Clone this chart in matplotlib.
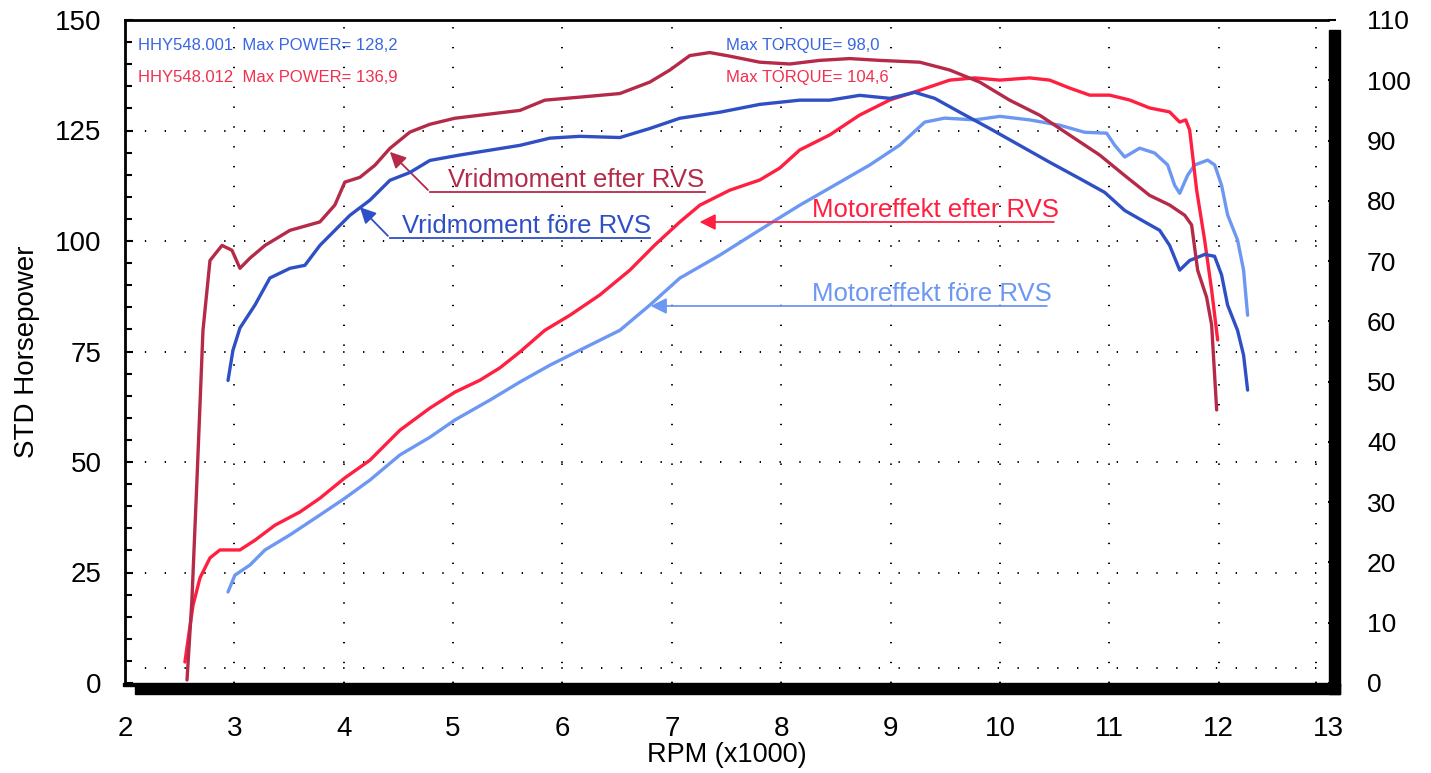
import matplotlib.pyplot as plt
import matplotlib.patches as mpatches
import numpy as np

plt.rcParams['font.family'] = ['Liberation Sans', 'DejaVu Sans']

# --- data ---
rpm_tq_after = [2.567, 2.612, 2.658, 2.713, 2.777, 2.887, 2.978, 3.051, 3.143, 3.280, 3.508, 3.782,
                3.919, 4.010, 4.148, 4.285, 4.422, 4.605, 4.788, 5.016, 5.336, 5.611, 5.839, 6.159,
                6.525, 6.799, 6.982, 7.165, 7.347, 7.530, 7.804, 8.079, 8.353, 8.627, 8.901, 9.267,
                9.541, 9.815, 10.089, 10.364, 10.638, 10.912, 11.141, 11.369, 11.552, 11.690, 11.753,
                11.808, 11.890, 11.936, 11.982]
tq_after = [0.5, 13.8, 33.7, 58.5, 70.1, 72.6, 71.8, 68.8, 70.5, 72.6, 75.1, 76.5,
            79.3, 83.1, 83.9, 85.9, 88.7, 91.4, 92.7, 93.7, 94.4, 95.0, 96.7, 97.2,
            97.8, 99.7, 101.7, 104.1, 104.6, 104.0, 103.0, 102.7, 103.3, 103.6, 103.3, 103.0,
            101.7, 99.7, 96.7, 94.2, 90.9, 87.6, 84.2, 80.9, 79.3, 77.6, 76.0,
            68.5, 64.0, 59.4, 45.3]

rpm_tq_before = [2.942, 2.987, 3.051, 3.188, 3.325, 3.508, 3.645, 3.782, 3.919, 4.057, 4.239, 4.422,
                 4.605, 4.788, 5.062, 5.336, 5.611, 5.885, 6.159, 6.525, 6.799, 7.073, 7.439, 7.804,
                 8.170, 8.444, 8.718, 8.993, 9.221, 9.404, 9.633, 9.907, 10.181, 10.455, 10.729,
                 10.958, 11.141, 11.324, 11.461, 11.552, 11.644, 11.735, 11.872, 11.963, 12.027,
                 12.082, 12.173, 12.228, 12.265]
tq_before = [50.2, 55.2, 58.9, 62.7, 67.2, 68.8, 69.3, 72.6, 75.1, 77.6, 80.1, 83.4,
             84.7, 86.7, 87.6, 88.4, 89.2, 90.4, 90.7, 90.5, 92.0, 93.7, 94.7, 96.0,
             96.7, 96.7, 97.5, 97.0, 98.0, 97.0, 94.7, 92.0, 89.2, 86.4, 83.7,
             81.4, 78.4, 76.5, 75.1, 72.6, 68.5, 70.1, 71.1, 70.8, 67.7,
             62.7, 58.5, 54.4, 48.6]

rpm_hp_after = [2.548, 2.576, 2.622, 2.686, 2.777, 2.868, 3.051, 3.188, 3.371, 3.600, 3.782, 4.010,
                4.239, 4.514, 4.788, 5.016, 5.245, 5.428, 5.611, 5.839, 6.068, 6.342, 6.616, 6.845,
                7.073, 7.256, 7.530, 7.804, 7.987, 8.170, 8.444, 8.718, 8.993, 9.267, 9.541, 9.770,
                10.0, 10.272, 10.455, 10.638, 10.821, 11.003, 11.186, 11.369, 11.552, 11.644, 11.699,
                11.735, 11.799, 11.872, 11.936, 11.991]
hp_after = [4.75, 9.7, 17.6, 23.8, 28.3, 30.1, 30.1, 32.3, 35.7, 38.7, 41.8, 46.4,
            50.4, 57.2, 62.2, 65.8, 68.5, 71.3, 74.9, 79.8, 83.2, 87.8, 93.4, 99.1,
            104.3, 108.1, 111.5, 113.8, 116.5, 120.6, 124.0, 128.5, 131.9, 134.1, 136.4, 136.9,
            136.4, 136.9, 136.4, 134.6, 133.0, 133.0, 131.9, 130.1, 129.2, 126.9, 127.4,
            125.1, 111.5, 100.2, 88.9, 77.6]

rpm_hp_before = [2.942, 3.005, 3.143, 3.280, 3.508, 3.782, 4.010, 4.239, 4.514, 4.788, 5.016, 5.336,
                 5.611, 5.885, 6.159, 6.525, 6.799, 7.073, 7.439, 7.804, 8.170, 8.536, 8.810, 9.084,
                 9.313, 9.495, 9.770, 10.0, 10.272, 10.547, 10.775, 10.976, 11.049, 11.141, 11.278,
                 11.415, 11.534, 11.598, 11.644, 11.717, 11.781, 11.900, 11.964, 12.027, 12.082,
                 12.173, 12.228, 12.265]
hp_before = [20.6, 24.4, 26.7, 30.1, 33.5, 38.0, 41.8, 45.9, 51.6, 55.6, 59.5, 64.0,
             68.1, 71.9, 75.3, 79.8, 85.5, 91.6, 96.8, 102.5, 108.1, 113.3, 117.2, 121.7,
             126.9, 127.8, 127.4, 128.2, 127.4, 126.2, 124.6, 124.4, 121.7, 119.0, 121.0,
             119.9, 117.2, 112.6, 110.8, 114.9, 117.2, 118.3, 117.2, 112.6, 105.9,
             100.2, 93.4, 83.2]

x_ticks = list(range(2, 14))
hp_ticks = [0, 25, 50, 75, 100, 125, 150]
tq_ticks = list(range(0, 111, 10))

c_tq_after = '#B52A48'
c_tq_before = '#2F4FC4'
c_hp_after = '#FF1F40'
c_hp_before = '#6C97F2'

fig = plt.figure(figsize=(14.31, 7.73), dpi=100)
W, H = 1431, 773
ax = fig.add_axes([125 / W, 1 - 683 / H, 1203 / W, 663 / H])
ax2 = ax.twinx()

ax.set_xlim(2, 13)
ax.set_ylim(0, 150)
ax2.set_ylim(0, 110)

# dotted grid
dot = dict(color='black', linewidth=1.4, linestyle=(0, (0.7, 9.5)), zorder=0)
for xv in x_ticks[1:-1]:
    ax.axvline(xv, **dot)
ax.axvline(12.89, **dot)
for yv in hp_ticks[1:-1]:
    ax.axhline(yv, **dot)
ax.axhline(3.4, **dot)

lw = 2.4
ax.plot(rpm_hp_before, hp_before, color=c_hp_before, lw=lw, solid_joinstyle='round', solid_capstyle='round')
ax.plot(rpm_hp_after, hp_after, color=c_hp_after, lw=lw, solid_joinstyle='round', solid_capstyle='round')
ax2.plot(rpm_tq_before, tq_before, color=c_tq_before, lw=lw, solid_joinstyle='round', solid_capstyle='round')
ax2.plot(rpm_tq_after, tq_after, color=c_tq_after, lw=lw, solid_joinstyle='round', solid_capstyle='round')

# ticks and labels
ax.set_xticks(x_ticks)
ax.set_yticks(hp_ticks)
ax.set_yticks(np.arange(0, 151, 5), minor=True)
ax.tick_params(axis='y', which='both', direction='in', length=6, width=1.5, labelsize=20, pad=17)
ax.tick_params(axis='y', which='minor', length=5)
ax.tick_params(axis='x', length=0, labelsize=20, pad=24)
ax2.set_yticks(tq_ticks)
ax2.tick_params(axis='y', direction='out', length=6, width=1.5, labelsize=19, pad=22)
ax.set_xlabel('RPM (x1000)', fontsize=19.5, labelpad=0)
ax.set_ylabel('STD Horsepower', fontsize=20, labelpad=11)

for a in (ax, ax2):
    for s in a.spines.values():
        s.set_visible(False)
ax.spines['left'].set_visible(True)
ax.spines['left'].set_linewidth(2)
ax.spines['top'].set_visible(True)
ax.spines['top'].set_linewidth(2)

# heavy shadowed frame on bottom and right
fig.patches.append(mpatches.Rectangle((123 / W, 1 - 686 / H), 1217 / W, 3 / H,
                                      transform=fig.transFigure, color='black'))
fig.patches.append(mpatches.Rectangle((135 / W, 1 - 694 / H), 1205 / W, 10 / H,
                                      transform=fig.transFigure, color='black'))
fig.patches.append(mpatches.Rectangle((1329 / W, 1 - 694 / H), 11 / W, 664 / H,
                                      transform=fig.transFigure, color='black'))

# header text
ax.text(2.12, 144.3, 'HHY548.001  Max POWER= 128,2', color='#3A66E0', fontsize=12, va='center')
ax.text(2.12, 136.9, 'HHY548.012  Max POWER= 136,9', color='#F0304E', fontsize=12, va='center')
ax.text(7.50, 144.3, 'Max TORQUE= 98,0', color='#3A66E0', fontsize=12, va='center')
ax.text(7.50, 136.9, 'Max TORQUE= 104,6', color='#F0304E', fontsize=12, va='center')

# curve labels with arrows
def label(text, color, x0, y0, x1, head, tx):
    ax.plot([x0, x1], [y0, y0], color=color, lw=1.3)
    ax.annotate('', xy=head, xytext=(x0, y0),
                arrowprops=dict(arrowstyle='-|>', color=color, lw=1.3, mutation_scale=24))
    ax.text(tx, y0 + 1.1, text, color=color, fontsize=18.5, va='baseline')

label('Vridmoment efter RVS', c_tq_after, 4.788, 111.1, 7.302, (4.404, 120.6), 4.95)
label('Vridmoment före RVS', c_tq_before, 4.422, 100.7, 6.799, (4.130, 108.1), 4.53)
label('Motoreffekt efter RVS', c_hp_after, 10.519, 104.3, 10.519, (7.228, 104.3), 8.28)
label('Motoreffekt före RVS', c_hp_before, 10.455, 85.3, 10.455, (6.781, 85.3), 8.28)

fig.savefig('out.png', dpi=100)
